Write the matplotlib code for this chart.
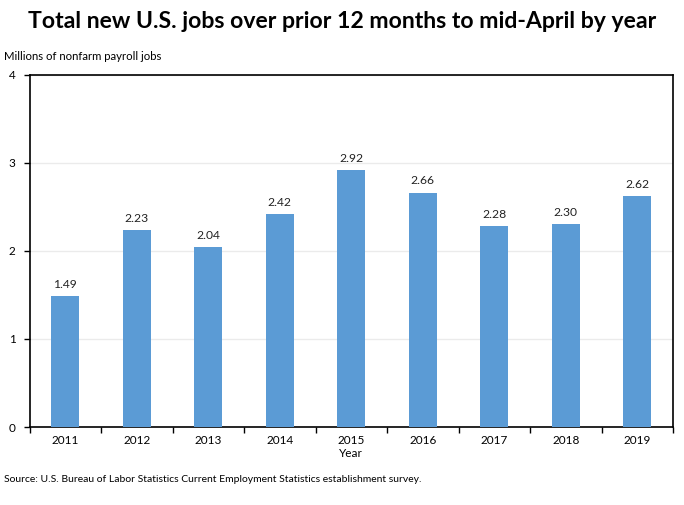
import matplotlib.pyplot as plt
import numpy as np

years = ["2011", "2012", "2013", "2014", "2015", "2016", "2017", "2018", "2019"]
jobs = [1.49, 2.23, 2.04, 2.42, 2.92, 2.66, 2.28, 2.30, 2.62]
yticks = [0, 1, 2, 3, 4]

plt.rcParams['font.family'] = ['Lato', 'DejaVu Sans']

fig = plt.figure(figsize=(6.84, 5.05), dpi=100)
W, H = 684, 505
ax = fig.add_axes([29.5 / W, 1 - 427 / H, (673 - 29.5) / W, (427 - 74.5) / H])

x = np.arange(len(years))
ax.bar(x, jobs, width=0.39, color='#5B9BD5', zorder=3)
for xi, v in zip(x, jobs):
    ax.text(xi, v + 0.07, f"{v:.2f}", ha='center', va='bottom', fontsize=8.7, color='#222222')

ax.set_xlim(-0.5, len(years) - 0.5)
ax.set_ylim(0, 4)
ax.set_yticks(yticks)
ax.set_yticklabels([str(t) for t in yticks], fontsize=8.5)
ax.set_xticks(x)
ax.set_xticklabels(years, fontsize=8.5)
ax.set_xticks(np.arange(len(years) + 1) - 0.5, minor=True)
ax.tick_params(axis='x', which='major', length=0, pad=6)
ax.tick_params(axis='x', which='minor', length=4, width=1, direction='out')
ax.tick_params(axis='y', length=4, width=1, direction='out', pad=6)
for s in ax.spines.values():
    s.set_linewidth(1.2)
    s.set_color('black')
ax.grid(axis='y', color='#ebebeb', linewidth=1, zorder=0)

ax.set_xlabel("Year", fontsize=8.5, labelpad=1)

fig.text(0.5, 1 - 22 / H, "Total new U.S. jobs over prior 12 months to mid-April by year",
         ha='center', va='center', fontsize=16.6, fontweight='bold')
fig.text(4 / W, 1 - 56 / H, "Millions of nonfarm payroll jobs", ha='left', va='center', fontsize=8.2)
fig.text(4 / W, 1 - 479 / H,
         "Source: U.S. Bureau of Labor Statistics Current Employment Statistics establishment survey.",
         ha='left', va='center', fontsize=7.5)

fig.savefig("out.png", dpi=100)
